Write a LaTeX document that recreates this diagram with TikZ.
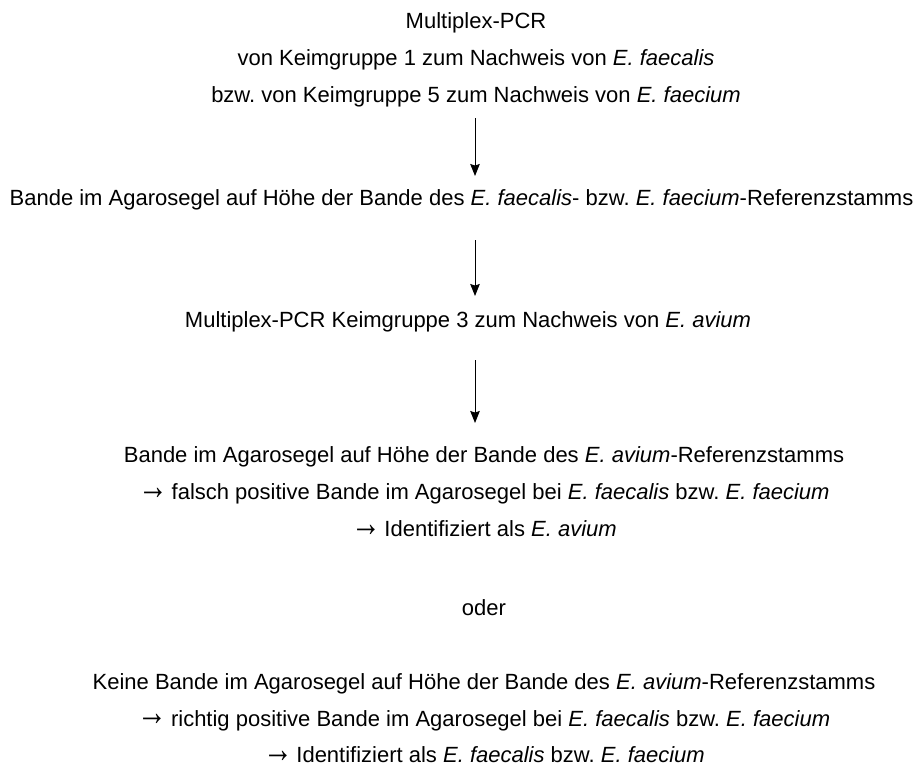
\documentclass[tikz,border=0pt]{standalone}
\usepackage{fontspec}
\usepackage{graphicx}
\setmainfont{Liberation Sans}
\newcommand{\rarr}{\raisebox{0.5pt}{\scalebox{1.35}[1.8]{→}}\hspace{3.5pt}}
\usetikzlibrary{arrows.meta}
\frenchspacing
\begin{document}
\begin{tikzpicture}[x=1pt,y=-1pt,
  txt/.style={anchor=base,inner sep=0pt,font=\fontsize{22pt}{26pt}\selectfont},
  flow/.style={line width=1pt,-{Stealth[length=12pt,width=9.5pt,inset=1.5pt]}}]
\useasboundingbox (0,0) rectangle (924,769);
\node[txt] (l1) at (476,28.5) {Multiplex-PCR};
\node[txt] (l2) at (476,65.5) {von Keimgruppe 1 zum Nachweis von \textit{E. faecalis}};
\node[txt] (l3) at (476,102.5) {bzw. von Keimgruppe 5 zum Nachweis von \textit{E. faecium}};
\node[txt] (l4) at (461.5,205.5) {Bande im Agarosegel auf Höhe der Bande des \textit{E. faecalis}- bzw. \textit{E. faecium}-Referenzstamms};
\node[txt] (l5) at (468,327.5) {Multiplex-PCR Keimgruppe 3 zum Nachweis von \textit{E. avium}};
\node[txt] (l6) at (484,462.5) {Bande im Agarosegel auf Höhe der Bande des \textit{E. avium}-Referenzstamms};
\node[txt] (l7) at (484,499.5) {\rarr falsch positive Bande im Agarosegel bei \textit{E. faecalis} bzw. \textit{E. faecium}};
\node[txt] (l8) at (484,536.5) {\rarr Identifiziert als \textit{E. avium}};
\node[txt] (l9) at (484,615.5) {oder};
\node[txt] (l10) at (484,689.5) {Keine Bande im Agarosegel auf Höhe der Bande des \textit{E. avium}-Referenzstamms};
\node[txt] (l11) at (484,726) {\rarr richtig positive Bande im Agarosegel bei \textit{E. faecalis} bzw. \textit{E. faecium}};
\node[txt] (l12) at (484,762.5) {\rarr Identifiziert als \textit{E. faecalis} bzw. \textit{E. faecium}};
\coordinate (a1s) at (475,118);
\coordinate (a1e) at (475,176);
\coordinate (a2s) at (475,240);
\coordinate (a2e) at (475,296);
\coordinate (a3s) at (475,360);
\coordinate (a3e) at (475,423);
\draw[flow] (a1s) -- (a1e);
\draw[flow] (a2s) -- (a2e);
\draw[flow] (a3s) -- (a3e);
\end{tikzpicture}
\end{document}
